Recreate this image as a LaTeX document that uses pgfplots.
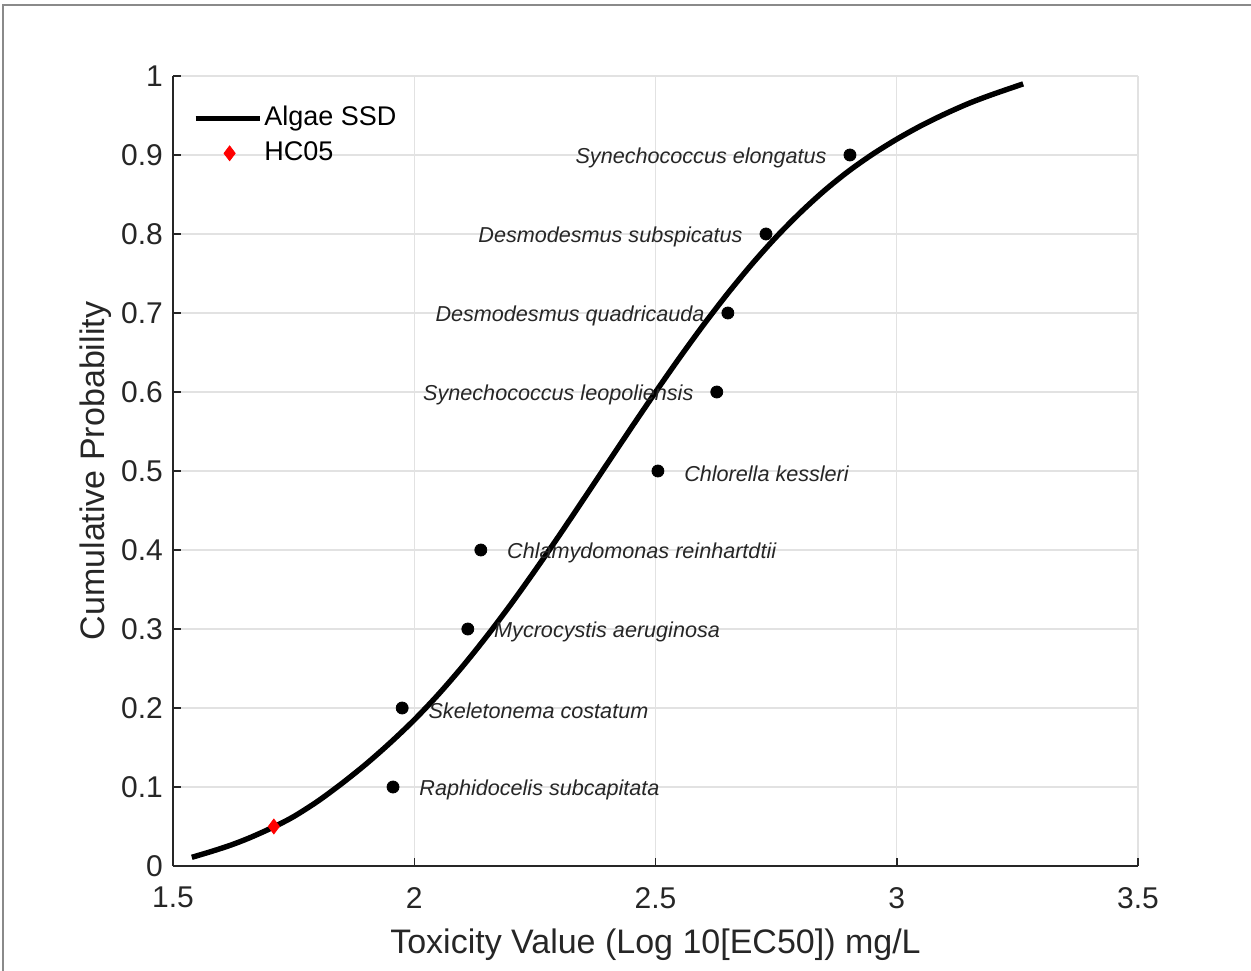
\documentclass[border=0pt]{standalone}
\usepackage{pgfplots}
\usepackage{pgfplotstable}
\pgfplotsset{compat=1.18}
\usepackage{fontspec}
\setmainfont{Liberation Sans}
\definecolor{axgray}{HTML}{262626}
\definecolor{gridgray}{HTML}{E2E2E2}
\definecolor{framegray}{HTML}{8A8A8A}

\pgfplotstableread{
x y
1.539 0.0110
1.580 0.0185
1.620 0.0265
1.660 0.0360
1.709 0.0495
1.750 0.0625
1.800 0.0820
1.850 0.1045
1.900 0.1290
1.950 0.1559
2.000 0.1850
2.050 0.2172
2.100 0.2525
2.150 0.2906
2.200 0.3311
2.250 0.3738
2.300 0.4180
2.350 0.4634
2.400 0.5092
2.450 0.5549
2.500 0.5998
2.550 0.6435
2.600 0.6854
2.650 0.7250
2.700 0.7620
2.750 0.7961
2.800 0.8270
2.850 0.8549
2.900 0.8795
2.950 0.9010
3.000 0.9200
3.050 0.9370
3.100 0.9520
3.150 0.9655
3.200 0.9770
3.262 0.9900
}\ssdcurve

\pgfplotstableread[col sep=comma]{
x,y,name
1.956,0.1,Raphidocelis subcapitata
1.975,0.2,Skeletonema costatum
2.111,0.3,Mycrocystis aeruginosa
2.138,0.4,Chlamydomonas reinhartdtii
2.505,0.5,Chlorella kessleri
}\rightpts

\pgfplotstableread[col sep=comma]{
x,y,name
2.627,0.6,Synechococcus leopoliensis
2.650,0.7,Desmodesmus quadricauda
2.729,0.8,Desmodesmus subspicatus
2.903,0.9,Synechococcus elongatus
}\leftpts

\begin{document}
\begin{tikzpicture}[x=1pt,y=1pt]
\useasboundingbox (-86.5,-52) rectangle (539,433);
\draw[framegray, line width=1pt] (-85,-53) -- (-85,430.5) -- (540,430.5);
\begin{axis}[
  scale only axis,
  width=482.5pt, height=395pt,
  xmin=1.5, xmax=3.5, ymin=0, ymax=1,
  xtick={1.5,2,2.5,3,3.5},
  ytick={0,0.1,0.2,0.3,0.4,0.5,0.6,0.7,0.8,0.9,1},
  axis x line*=bottom, axis y line*=left,
  axis line style={axgray, line width=0.75pt},
  tick align=inside,
  major tick length=4pt,
  tick style={axgray, line width=0.75pt},
  grid=major,
  major grid style={gridgray, line width=0.6pt},
  /pgf/number format/assume math mode=true,
  xticklabel style={font=\fontsize{15}{18}\selectfont, text=axgray, yshift=-7pt},
  yticklabel style={font=\fontsize{15}{18}\selectfont, text=axgray, xshift=-1.5pt},
  every axis x label/.style={at={(axis description cs:0.5,-0.099)}, anchor=center},
  every axis y label/.style={at={(axis description cs:-0.0800,0.5)}, rotate=90, anchor=center},
  label style={font=\fontsize{17}{20}\selectfont, text=axgray},
  xlabel={Toxicity Value (Log 10[EC50]) mg/L},
  ylabel={Cumulative Probability},
  legend style={at={(axis description cs:0.014,0.971)}, anchor=north west,
    draw=none, fill=none, font=\fontsize{13.5}{16}\selectfont, text=black,
    row sep=2.5pt,
    nodes={inner sep=1pt, text height=10pt, text depth=3pt}},
  legend cell align=left,
  clip=false,
]
\addplot[black, line width=2.7pt, smooth,
  legend image code/.code={\draw[black, line width=2.7pt] (0pt,0pt) -- (32pt,0pt);}]
  table[x=x,y=y]{\ssdcurve};
\addlegendentry{Algae SSD}
\addplot[only marks, mark=diamond*, mark size=3.7pt, red, mark options={draw=red, fill=red},
  legend image code/.code={\draw[red, fill=red] (17pt,3.7pt) -- (19.8pt,0pt) -- (17pt,-3.7pt) -- (14.2pt,0pt) -- cycle; \path (32pt,0pt);}]
  coordinates {(1.709,0.05)};
\addlegendentry{HC05}
\addplot[only marks, mark=*, mark size=3pt, black, forget plot,
  nodes near coords, point meta=explicit symbolic,
  every node near coord/.append style={anchor=west, xshift=13pt, yshift=-1.5pt, inner sep=0pt,
    font=\fontsize{10.8}{13}\selectfont\itshape, text=axgray}]
  table[x=x,y=y,meta=name]{\rightpts};
\addplot[only marks, mark=*, mark size=3pt, black, forget plot,
  nodes near coords, point meta=explicit symbolic,
  every node near coord/.append style={anchor=east, xshift=-11.5pt, yshift=-1.5pt, inner sep=0pt,
    font=\fontsize{10.8}{13}\selectfont\itshape, text=axgray}]
  table[x=x,y=y,meta=name]{\leftpts};
\end{axis}
\end{tikzpicture}
\end{document}
